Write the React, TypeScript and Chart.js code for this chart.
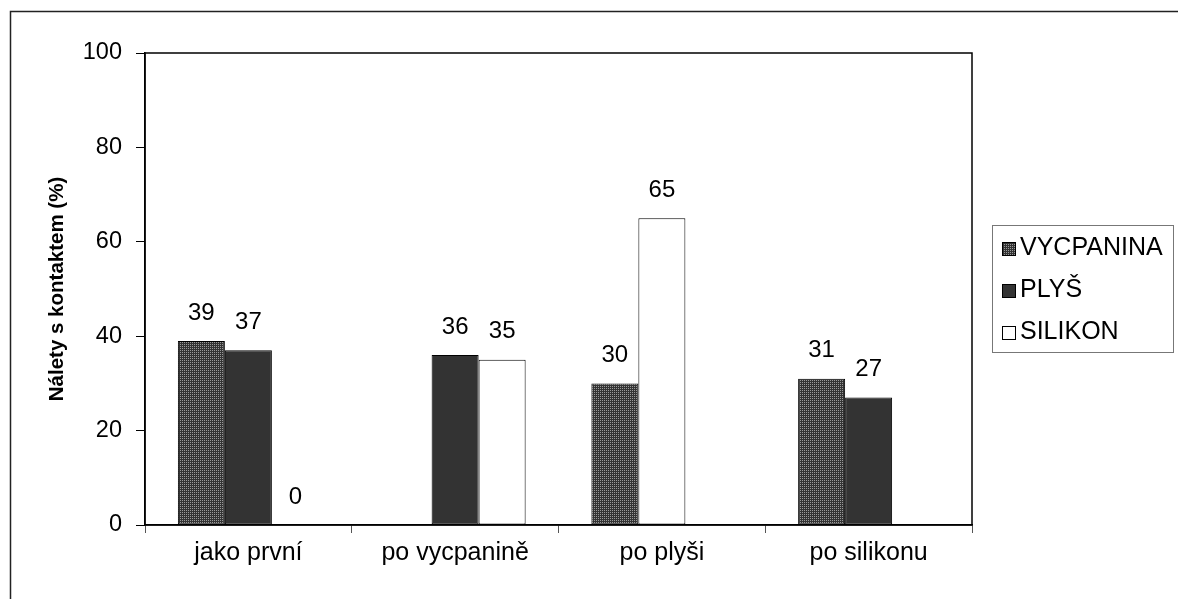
import React, { useEffect, useRef } from "react";
import { Chart, registerables } from "chart.js";

Chart.register(...registerables);

const CATEGORIES = ["jako první", "po vycpanině", "po plyši", "po silikonu"];
const SERIES_NAMES = ["VYCPANINA", "PLYŠ", "SILIKON"];
const VYCPANINA = [39, null, 30, 31];
const PLYS = [37, 36, null, 27];
const SILIKON = [0, 35, 65, null];
// in the reference, the SILIKON bar of "po plyši" sits in the second slot of its group
const SILIKON_IN_SECOND_SLOT = [false, false, true, false];
const Y_TICKS = [0, 20, 40, 60, 80, 100];
const Y_TITLE = "Nálety s kontaktem (%)";

const FONT = "Arial, 'Liberation Sans', sans-serif";

function makePattern(): CanvasPattern | string {
  const c = document.createElement("canvas");
  c.width = 2;
  c.height = 2;
  const g = c.getContext("2d");
  if (!g) return "#4a4a4a";
  g.fillStyle = "#333333";
  g.fillRect(0, 0, 2, 2);
  g.fillStyle = "#9a9a9a";
  g.fillRect(0, 0, 1, 1);
  const p = g.createPattern(c, "repeat");
  return p || "#4a4a4a";
}

export default function App() {
  const ref = useRef<HTMLCanvasElement>(null);

  useEffect(() => {
    if (!ref.current) return;
    const pattern = makePattern();
    const colors = [pattern, "#333333", "#ffffff"];

    const silikonThird = SILIKON.map((v, i) => (SILIKON_IN_SECOND_SLOT[i] ? null : v));
    const silikonSecond = SILIKON.map((v, i) => (SILIKON_IN_SECOND_SLOT[i] ? v : null));

    const frame = {
      id: "frame",
      beforeDraw(chart: any) {
        const ctx = chart.ctx;
        ctx.save();
        ctx.fillStyle = "#ffffff";
        ctx.fillRect(0, 0, chart.width, chart.height);
        ctx.strokeStyle = "#222222";
        ctx.lineWidth = 1.5;
        ctx.strokeRect(10.5, 11.5, 1400, 800);
        ctx.restore();
      },
      afterDraw(chart: any) {
        const ctx = chart.ctx;
        const a = chart.chartArea;
        ctx.save();
        ctx.strokeStyle = "#000000";
        ctx.lineWidth = 1.5;
        ctx.strokeRect(a.left, a.top, a.right - a.left, a.bottom - a.top);
        // legend
        const lx = 992.5, ly = 225.5, lw = 181, lh = 127;
        ctx.strokeStyle = "#777777";
        ctx.lineWidth = 1;
        ctx.strokeRect(lx, ly, lw, lh);
        ctx.font = `25px ${FONT}`;
        ctx.textBaseline = "middle";
        ctx.textAlign = "left";
        SERIES_NAMES.forEach((name, i) => {
          const cy = 248 + i * 42;
          ctx.fillStyle = colors[i] as any;
          ctx.fillRect(1002, cy - 6, 14, 14);
          ctx.strokeStyle = "#000000";
          ctx.lineWidth = 1;
          ctx.strokeRect(1002.5, cy - 5.5, 13, 13);
          ctx.fillStyle = "#000000";
          ctx.fillText(name, 1020, cy);
        });
        ctx.restore();
      },
    };

    const labels = {
      id: "valueLabels",
      afterDatasetsDraw(chart: any) {
        const ctx = chart.ctx;
        ctx.save();
        ctx.font = `24px ${FONT}`;
        ctx.fillStyle = "#000000";
        ctx.textAlign = "center";
        ctx.textBaseline = "middle";
        chart.data.datasets.forEach((ds: any, di: number) => {
          const meta = chart.getDatasetMeta(di);
          meta.data.forEach((el: any, i: number) => {
            const v = ds.data[i];
            if (v === null || v === undefined) return;
            ctx.fillText(String(v), el.x, el.y - 28);
          });
        });
        ctx.restore();
      },
    };

    const common = {
      borderColor: "#000000",
      borderWidth: 1,
      borderSkipped: false,
      categoryPercentage: 0.682,
      barPercentage: 1,
    };

    const chart = new Chart(ref.current, {
      type: "bar",
      data: {
        labels: CATEGORIES,
        datasets: [
          { ...common, label: SERIES_NAMES[0], data: VYCPANINA, backgroundColor: colors[0] as any, stack: "a" },
          { ...common, label: SERIES_NAMES[1], data: PLYS, backgroundColor: colors[1], stack: "b" },
          { ...common, label: SERIES_NAMES[2], data: silikonThird, backgroundColor: colors[2], stack: "c" },
          { ...common, label: SERIES_NAMES[2] + " ", data: silikonSecond, backgroundColor: colors[2], stack: "b" },
        ] as any,
      },
      options: {
        responsive: false,
        animation: false,
        devicePixelRatio: 1,
        layout: { padding: { left: 0, top: 53, right: 1178 - 972, bottom: 0 } },
        plugins: { legend: { display: false }, tooltip: { enabled: false } },
        scales: {
          x: {
            stacked: true,
            afterFit: (s: any) => { s.height = 599 - 525; },
            grid: { display: true, drawOnChartArea: false, offset: true, tickLength: 8, color: "#000000", tickColor: "#555555" },
            border: { display: true, color: "#000000", width: 1.5 },
            ticks: { color: "#000000", font: { family: FONT, size: 25 }, padding: 5, maxRotation: 0 },
          },
          y: {
            stacked: true,
            min: 0,
            max: 100,
            afterFit: (s: any) => { s.width = 145; },
            afterBuildTicks: (s: any) => { s.ticks = Y_TICKS.map((v) => ({ value: v })); },
            grid: { display: true, drawOnChartArea: false, tickLength: 9, color: "#000000" },
            border: { display: true, color: "#000000", width: 1.5 },
            ticks: { color: "#000000", font: { family: FONT, size: 23.5 }, padding: 14 },
            title: {
              display: true,
              text: Y_TITLE,
              color: "#000000",
              font: { family: FONT, size: 20.5, weight: "bold" },
              padding: { top: 45, bottom: 0 },
            },
          },
        },
      } as any,
      plugins: [frame, labels],
    });
    return () => chart.destroy();
  }, []);

  return (
    <div style={{ position: "absolute", left: 0, top: 0, width: 1178, height: 599, overflow: "hidden" }}>
      <canvas ref={ref} width={1178} height={599} style={{ display: "block" }} />
    </div>
  );
}
